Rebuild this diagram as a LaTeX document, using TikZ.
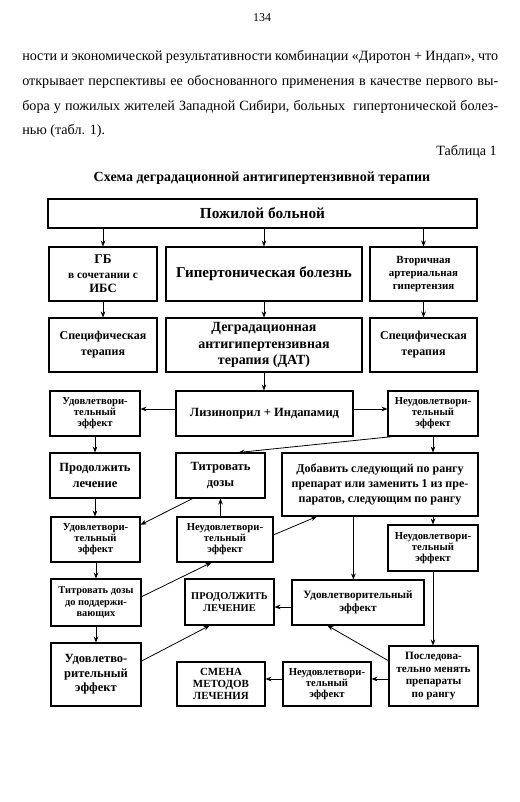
\documentclass[tikz,border=0pt]{standalone}
\usepackage{fontspec}
\setmainfont{Liberation Serif}
\usetikzlibrary{arrows.meta,calc}
\newcommand\fz[2]{\fontsize{#1}{#2}\selectfont}
\tikzset{
  box/.style={draw, line width=0.8pt, align=center, inner sep=1pt, font=\bfseries},
  sbox/.style={box, minimum width=67.5pt, minimum height=33.75pt},
  arr/.style={line width=0.6pt, -{Stealth[length=4.5pt,width=3.5pt]}},
  body/.style={inner sep=0pt, font=\fz{10.6}{12}},
}
\begin{document}
\begin{tikzpicture}[x=0.75pt,y=-0.75pt]
\useasboundingbox (0,0) rectangle (520,802);
\fill[white] (0,0) rectangle (520,802);
% header text
\node[body, font=\fz{9}{11}] (pg) at (262,18) {134};
\node[body, anchor=west] (l1) at (22,57) {\makebox[357pt][s]{ности и экономической результативности комбинации «Диротон + Индап», что}};
\node[body, anchor=west] (l2) at (22,82) {\makebox[357pt][s]{открывает перспективы ее обоснованного применения в качестве первого вы-}};
\node[body, anchor=west] (l3) at (22,107) {\makebox[357pt][s]{бора у пожилых жителей Западной Сибири, больных \ гипертонической болез-}};
\node[body, anchor=west] (l4) at (22,131) {нью (табл. 1).};
\node[body, anchor=east] (tab) at (497,152) {Таблица 1};
\node[body, font=\bfseries\fz{10.5}{12}] (title) at (262,178) {Схема деградационной антигипертензивной терапии};
% boxes
\node[box, minimum width=321.75pt, minimum height=21.75pt, font=\bfseries\fz{11.5}{13}] (top) at (262.5,213.5) {Пожилой больной};
\node[box, minimum width=81pt, minimum height=40.5pt, font=\bfseries\fz{8.5}{11}] (gb) at (103,274) {{\fz{10}{11}ГБ}\\в сочетании с\\{\fz{9.5}{11}ИБС}};
\node[box, minimum width=147pt, minimum height=40.5pt, font=\bfseries\fz{11.3}{13}] (hb) at (264,274) {Гипертоническая болезнь};
\node[box, minimum width=80.25pt, minimum height=40.5pt, font=\bfseries\fz{8.2}{10}] (vt) at (423.5,274) {Вторичная\\артериальная\\гипертензия};
\node[box, minimum width=81pt, minimum height=40.5pt, font=\bfseries\fz{9}{12}] (sp1) at (103,345) {Специфическая\\терапия};
\node[box, minimum width=147pt, minimum height=40.5pt, font=\bfseries\fz{10.5}{12.4}] (dat) at (264,345) {Деградационная\\антигипертензивная\\терапия (ДАТ)};
\node[box, minimum width=80.25pt, minimum height=40.5pt, font=\bfseries\fz{9}{12}] (sp2) at (423.5,345) {Специфическая\\терапия};
\node[sbox, font=\bfseries\fz{8}{8.2}] (ud1) at (95,413.5) {Удовлетвори-\\тельный\\эффект};
\node[box, minimum width=132.75pt, minimum height=33.75pt, font=\bfseries\fz{9.4}{11}] (liz) at (264.5,413.5) {Лизиноприл + Индапамид};
\node[sbox, font=\bfseries\fz{8}{8.2}] (ne1) at (433,413.5) {Неудовлетвори-\\тельный\\эффект};
\node[sbox, font=\bfseries\fz{9.4}{12}] (pl) at (95,475.5) {Продолжить\\лечение};
\node[sbox, minimum width=66.75pt, font=\bfseries\fz{9.4}{12}] (td) at (220.5,475.5) {Титровать\\дозы};
\node[box, minimum width=147pt, minimum height=47.25pt, font=\bfseries\fz{9}{11.5}] (dob) at (380,484.5) {Добавить следующий по рангу\\препарат или заменить 1 из пре-\\паратов, следующим по рангу};
\node[sbox, minimum width=66.75pt, font=\bfseries\fz{8}{8.2}] (ud2) at (95.5,539.5) {Удовлетвори-\\тельный\\эффект};
\node[sbox, minimum width=72pt, font=\bfseries\fz{8}{8.2}] (ne2) at (225,539.5) {Неудовлетвори-\\тельный\\эффект};
\node[sbox, minimum height=34.5pt, font=\bfseries\fz{8}{8.2}] (ne3) at (433,548) {Неудовлетвори-\\тельный\\эффект};
\node[sbox, minimum height=35.25pt, font=\bfseries\fz{7.8}{8.8}] (tdp) at (96,602.5) {Титровать дозы\\до поддержи-\\вающих};
\node[sbox, minimum width=66.75pt, minimum height=34.5pt, font=\bfseries\fz{7.8}{9.2}] (pr) at (229.5,602) {ПРОДОЛЖИТЬ\\ЛЕЧЕНИЕ};
\node[box, minimum width=99pt, minimum height=33.75pt, font=\bfseries\fz{8.4}{10}] (ud3) at (358,602.5) {Удовлетворительный\\эффект};
\node[box, minimum width=67.5pt, minimum height=47.25pt, font=\bfseries\fz{9.4}{10.8}] (ud4) at (96,674.5) {Удовлетво-\\рительный\\эффект};
\node[box, minimum width=66pt, minimum height=33pt, font=\bfseries\fz{8.2}{8.8}] (sm) at (221,684) {СМЕНА\\МЕТОДОВ\\ЛЕЧЕНИЯ};
\node[box, minimum width=66pt, minimum height=33pt, font=\bfseries\fz{8}{8.2}] (ne4) at (327,684) {Неудовлетвори-\\тельный\\эффект};
\node[box, minimum width=66.75pt, minimum height=45pt, font=\bfseries\fz{8.4}{9.5}] (pos) at (433.5,676) {Последова-\\тельно менять\\препараты\\по рангу};
% connectors
\draw[arr] (gb.north |- top.south) -- (gb.north);
\draw[arr] (hb.north |- top.south) -- (hb.north);
\draw[arr] (vt.north |- top.south) -- (vt.north);
\draw[arr] (gb) -- (sp1);
\draw[arr] (hb) -- (dat);
\draw[arr] (vt) -- (sp2);
\draw[arr] (dat.south) -- (liz.north -| dat.south);
\coordinate (ya) at (0,409);
\draw[arr] (liz.west |- ya) -- (ud1.east |- ya);
\draw[arr] (liz.east |- ya) -- (ne1.west |- ya);
\draw[arr] (ud1.south) -- (pl.north -| ud1.south);
\draw[arr] (pl.south) -- (ud2.north -| pl.south);
\draw[arr] (ud2.south -| tdp.north) -- (tdp.north);
\draw[arr] (tdp.south) -- (ud4.north -| tdp.south);
\draw[arr] (ne1.south) -- (dob.north -| ne1.south);
\draw[arr] ($(ne1.south west)!0.06!(ne1.south east)$) -- ($(td.north west)!0.7!(td.north east)$);
\draw[arr] ($(td.south west)!0.19!(td.south east)$) -- ($(ud2.north east)!0.18!(ud2.south east)$);
\draw[arr] (td.south |- ne2.north) -- (td.south);
\draw[arr] ($(ne2.north east)!0.4!(ne2.south east)$) -- ($(dob.south west)!0.18!(dob.south east)$);
\draw[arr] (ne3.north |- dob.south) -- (ne3.north);
\coordinate (dd) at ($(dob.south west)!0.365!(dob.south east)$);
\draw[arr] (dd) -- (dd |- ud3.north);
\draw[arr] ($(tdp.north east)!0.38!(tdp.south east)$) -- ($(ne2.south west)!0.36!(ne2.south east)$);
\coordinate (yb) at (0,607);
\draw[arr] (ud3.west |- yb) -- (pr.east |- yb);
\draw[arr] (ne3.south) -- (pos.north -| ne3.south);
\draw[arr] ($(ud4.north east)!0.29!(ud4.south east)$) -- ($(pr.south west)!0.28!(pr.south east)$);
\draw[arr] ($(pos.north west)!0.25!(pos.south west)$) -- ($(ud3.south west)!0.27!(ud3.south east)$);
\coordinate (yc) at (0,679);
\draw[arr] (pos.west |- yc) -- (ne4.east |- yc);
\draw[arr] (ne4.west |- yc) -- (sm.east |- yc);
\end{tikzpicture}
\end{document}
